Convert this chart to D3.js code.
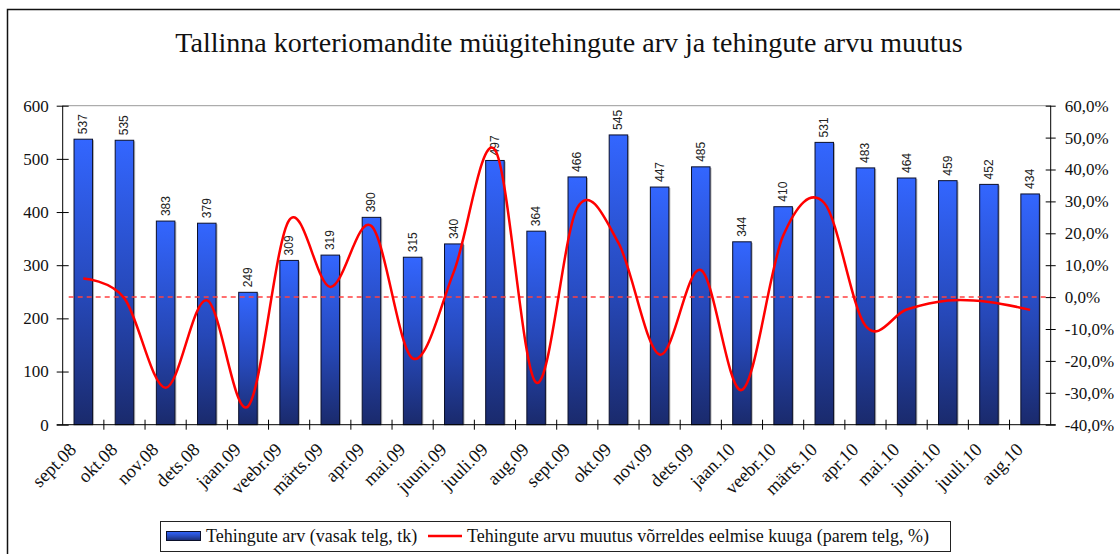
<!DOCTYPE html>
<html>
<head>
<meta charset="utf-8">
<script src="https://cdn.jsdelivr.net/npm/d3@7"></script>
<style>
  body { margin: 0; background: #fff; }
  svg { display: block; }
</style>
</head>
<body>
<script>
const months = ['sept.08', 'okt.08', 'nov.08', 'dets.08', 'jaan.09', 'veebr.09', 'märts.09', 'apr.09',
  'mai.09', 'juuni.09', 'juuli.09', 'aug.09', 'sept.09', 'okt.09', 'nov.09', 'dets.09', 'jaan.10',
  'veebr.10', 'märts.10', 'apr.10', 'mai.10', 'juuni.10', 'juuli.10', 'aug.10'];

// Tehingute arv (tk)
const deals = [537, 535, 383, 379, 249, 309, 319, 390, 315, 340, 497, 364, 466, 545, 447, 485, 344, 410,
  531, 483, 464, 459, 452, 434];

// muutus vorreldes eelmise kuuga (%)
const changePct = [5.8, -0.4, -28.4, -1.0, -34.3, 24.1, 3.2, 22.3, -19.2, 7.9, 46.2, -26.8, 28.0, 17.0,
  -18.0, 8.5, -29.1, 19.2, 29.5, -9.0, -3.9, -1.1, -1.5, -4.0];

const leftTicks = [0, 100, 200, 300, 400, 500, 600];
const rightTicks = [-40, -30, -20, -10, 0, 10, 20, 30, 40, 50, 60];

const title = 'Tallinna korteriomandite müügitehingute arv ja tehingute arvu muutus';
const legendBars = 'Tehingute arv (vasak telg, tk)';
const legendLine = 'Tehingute arvu muutus võrreldes eelmise kuuga (parem telg, %)';

let width = 1120,
  height = 554;

const plot = { left: 62.7, right: 1050.7, top: 105.7, bottom: 424.7 };
const serif = '"Liberation Serif", "DejaVu Serif", serif';

const svg = d3
  .select('body')
  .append('svg')
  .attr('width', width)
  .attr('height', height);

// gradient for bars
const grad = svg
  .append('defs')
  .append('linearGradient')
  .attr('id', 'barGrad')
  .attr('x1', 0)
  .attr('y1', 0)
  .attr('x2', 0)
  .attr('y2', 1);
grad.append('stop').attr('offset', '0%').attr('stop-color', '#3366ff');
grad.append('stop').attr('offset', '55%').attr('stop-color', '#2648b8');
grad.append('stop').attr('offset', '100%').attr('stop-color', '#1a2a6c');

// outer frame
svg
  .append('rect')
  .attr('x', 7.5)
  .attr('y', 9.5)
  .attr('width', width)
  .attr('height', height)
  .attr('fill', 'none')
  .attr('stroke', '#111')
  .attr('stroke-width', 1.5);

svg
  .append('text')
  .attr('x', 569)
  .attr('y', 52)
  .attr('text-anchor', 'middle')
  .attr('font-family', serif)
  .attr('font-size', 28)
  .attr('fill', '#111')
  .text(title);

// scales
let x = d3.scaleBand().domain(months).range([plot.left, plot.right]).paddingInner(0.55).paddingOuter(0.275);
let band = d3.scaleBand().domain(months).range([plot.left, plot.right]);
let y = d3.scaleLinear().domain([0, 600]).range([plot.bottom, plot.top]);
let y1 = d3.scaleLinear().domain([-40, 60]).range([plot.bottom, plot.top]);

// plot area top border
svg
  .append('line')
  .attr('x1', plot.left)
  .attr('x2', plot.right)
  .attr('y1', plot.top)
  .attr('y2', plot.top)
  .attr('stroke', '#999')
  .attr('stroke-width', 1);

// bars (with light shadow)
svg
  .append('g')
  .selectAll('rect')
  .data(deals)
  .join('rect')
  .attr('x', (d, i) => x(months[i]) + 1.5)
  .attr('y', (d) => y(d) + 1)
  .attr('width', x.bandwidth())
  .attr('height', (d) => plot.bottom - y(d) - 1)
  .attr('fill', '#bbb');

svg
  .append('g')
  .selectAll('rect')
  .data(deals)
  .join('rect')
  .attr('x', (d, i) => x(months[i]))
  .attr('y', (d) => y(d))
  .attr('width', x.bandwidth())
  .attr('height', (d) => plot.bottom - y(d))
  .attr('fill', 'url(#barGrad)')
  .attr('stroke', '#0a0f2a')
  .attr('stroke-width', 1);

// bar labels
svg
  .append('g')
  .selectAll('text')
  .data(deals)
  .join('text')
  .attr('transform', (d, i) => `translate(${x(months[i]) + x.bandwidth() / 2 + 4},${y(d) - 5}) rotate(-90)`)
  .attr('font-family', '"Liberation Sans", Arial, sans-serif')
  .attr('font-size', 12)
  .attr('fill', '#222')
  .text((d) => d);

// zero line for right axis
svg
  .append('line')
  .attr('x1', plot.left + 6)
  .attr('x2', plot.right)
  .attr('y1', y1(0))
  .attr('y2', y1(0))
  .attr('stroke', '#ff4040')
  .attr('stroke-width', 1.5)
  .attr('stroke-dasharray', '5,4');

// change line
let line = d3
  .line()
  .curve(d3.curveCardinal.tension(0))
  .x((d, i) => band(months[i]) + band.bandwidth() / 2)
  .y((d) => y1(d));

svg
  .append('path')
  .datum(changePct)
  .attr('fill', 'none')
  .attr('stroke', '#ff0000')
  .attr('stroke-width', 2.5)
  .attr('stroke-linejoin', 'round')
  .attr('d', line);

// axes
let yAxis = (g) =>
  g
    .attr('transform', `translate(${plot.left},0)`)
    .call(d3.axisLeft(y).tickValues(leftTicks).tickSize(5).tickPadding(9))
    .call((g) => g.selectAll('.tick line').attr('x2', 6).attr('x1', -6))
    .call((g) => g.select('.domain').attr('d', `M0,${plot.top}V${plot.bottom}`))
    .call((g) => g.selectAll('text').attr('font-family', serif).attr('font-size', 17).attr('fill', '#111'));

let yAxis1 = (g) =>
  g
    .attr('transform', `translate(${plot.right},0)`)
    .call(
      d3
        .axisRight(y1)
        .tickValues(rightTicks)
        .tickSize(5)
        .tickPadding(9)
        .tickFormat((d) => d3.format('.1f')(d).replace('.', ',').replace('−', '-') + '%')
    )
    .call((g) => g.selectAll('.tick line').attr('x1', -5).attr('x2', 5))
    .call((g) => g.select('.domain').attr('d', `M0,${plot.top}V${plot.bottom}`))
    .call((g) => g.selectAll('text').attr('font-family', serif).attr('font-size', 17).attr('fill', '#111'));

let xAxis = (g) =>
  g
    .attr('transform', `translate(0,${plot.bottom})`)
    .call((g) =>
      g
        .append('line')
        .attr('x1', plot.left - 6)
        .attr('x2', plot.right + 5)
        .attr('stroke', '#000')
    )
    .call((g) =>
      g
        .selectAll('.sep')
        .data(months.slice(1))
        .join('line')
        .attr('class', 'sep')
        .attr('x1', (d) => band(d))
        .attr('x2', (d) => band(d))
        .attr('y1', -5)
        .attr('y2', 5)
        .attr('stroke', '#000')
    )
    .call((g) =>
      g
        .selectAll('.lbl')
        .data(months)
        .join('text')
        .attr('class', 'lbl')
        .attr('transform', (d) => `translate(${band(d) + band.bandwidth() / 2 - 6},${26}) rotate(-45)`)
        .attr('text-anchor', 'end')
        .attr('font-family', serif)
        .attr('font-size', 18.5)
        .attr('fill', '#111')
        .text((d) => d)
    );

svg.append('g').call(yAxis);
svg.append('g').call(yAxis1);
svg.append('g').call(xAxis);

// legend
const legend = svg.append('g');
legend
  .append('rect')
  .attr('x', 160.5)
  .attr('y', 521.5)
  .attr('width', 790)
  .attr('height', 30)
  .attr('fill', '#fff')
  .attr('stroke', '#222')
  .attr('stroke-width', 1);
legend
  .append('rect')
  .attr('x', 166.5)
  .attr('y', 531.5)
  .attr('width', 34)
  .attr('height', 9)
  .attr('fill', 'url(#barGrad)')
  .attr('stroke', '#0a0f2a');
legend
  .append('text')
  .attr('x', 206)
  .attr('y', 542)
  .attr('font-family', serif)
  .attr('font-size', 18)
  .attr('fill', '#111')
  .text(legendBars);
legend
  .append('line')
  .attr('x1', 428)
  .attr('x2', 462)
  .attr('y1', 536)
  .attr('y2', 536)
  .attr('stroke', '#ff0000')
  .attr('stroke-width', 2.5);
legend
  .append('text')
  .attr('x', 467)
  .attr('y', 542)
  .attr('font-family', serif)
  .attr('font-size', 18)
  .attr('fill', '#111')
  .text(legendLine);
</script>
</body>
</html>
